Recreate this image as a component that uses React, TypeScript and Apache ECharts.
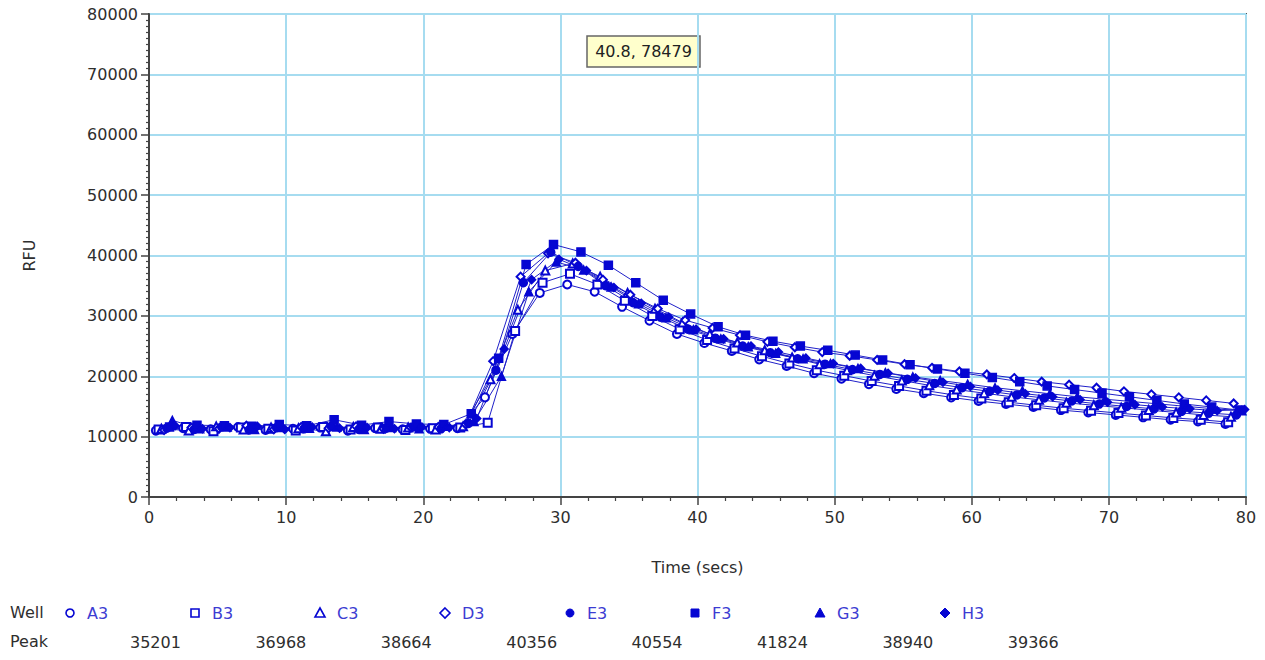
import React, { useEffect, useRef } from "react";
import * as echarts from "echarts";

// ---- Data ----
const wells = ["A3", "B3", "C3", "D3", "E3", "F3", "G3", "H3"];
const peaks = [35201, 36968, 38664, 40356, 40554, 41824, 38940, 39366];
// time (s) of each well's first read; reads repeat every readInterval seconds
const firstRead = [0.5, 0.7, 0.9, 1.1, 1.3, 1.5, 1.7, 1.9];
const readInterval = 2;
const wellSymbols = ["emptyCircle", "emptyRect", "emptyTriangle", "emptyDiamond", "circle", "rect", "triangle", "diamond"];

const rfuA3 = [11000, 11400, 11200, 11600, 11100, 11300, 11500, 11000, 11400, 11200, 11300, 11400, 16500, 27000, 33800, 35201, 34000, 31500, 29200, 27000, 25500, 24200, 22800, 21700, 20500, 19600, 18700, 17900, 17200, 16500, 15900, 15400, 14900, 14400, 14000, 13600, 13200, 12800, 12500, 12100];
const rfuB3 = [11200, 11600, 10900, 11500, 11300, 11000, 11600, 11200, 11500, 11100, 11400, 11500, 12300, 27500, 35500, 36968, 35200, 32500, 30000, 27800, 26000, 24600, 23300, 22100, 21000, 20100, 19200, 18400, 17600, 16900, 16300, 15700, 15200, 14700, 14300, 13900, 13500, 13100, 12800, 12400];
const rfuC3 = [11300, 11000, 11700, 11200, 11500, 11400, 10900, 11600, 11300, 11500, 11200, 11700, 19500, 31000, 37500, 38664, 36500, 33800, 31200, 28900, 27000, 25600, 24300, 23100, 22000, 21000, 20100, 19300, 18500, 17800, 17200, 16600, 16100, 15600, 15200, 14800, 14400, 14000, 13600, 13300];
const rfuD3 = [11100, 11500, 11300, 11800, 11200, 11600, 11400, 11700, 11300, 11500, 11600, 12000, 22500, 36500, 40356, 38800, 36000, 33500, 31200, 29300, 28000, 26800, 25700, 24800, 24000, 23400, 22700, 22000, 21400, 20800, 20300, 19700, 19100, 18600, 18100, 17500, 17000, 16500, 16000, 15500];
const rfuE3 = [11400, 11200, 11600, 11100, 11500, 11300, 11700, 11200, 11400, 11600, 11300, 12200, 21000, 35500, 40554, 38200, 35000, 32200, 29800, 27800, 26300, 25000, 23900, 22900, 22000, 21100, 20300, 19500, 18800, 18100, 17500, 16900, 16400, 15900, 15400, 15000, 14600, 14200, 13900, 13600];
const rfuF3 = [11600, 11900, 11800, 11700, 12000, 11800, 12800, 11900, 12500, 12100, 12000, 13800, 23000, 38500, 41824, 40600, 38400, 35500, 32600, 30300, 28200, 26800, 25800, 25000, 24300, 23500, 22700, 21900, 21200, 20500, 19800, 19100, 18400, 17800, 17200, 16600, 16000, 15400, 14900, 14400];
const rfuG3 = [12700, 11300, 11600, 11200, 11500, 11400, 11600, 11200, 11500, 11300, 11700, 12500, 20000, 34000, 38940, 37600, 34800, 32000, 29700, 27700, 26200, 24900, 23800, 22900, 22100, 21300, 20600, 19900, 19300, 18700, 18100, 17600, 17100, 16600, 16200, 15800, 15400, 15000, 14600, 14300];
const rfuH3 = [11800, 11300, 11500, 11700, 11200, 11600, 11400, 11500, 11300, 11600, 11500, 13000, 24500, 36000, 39366, 37500, 34700, 32100, 29800, 27800, 26200, 25000, 24000, 23000, 22100, 21300, 20500, 19700, 19000, 18300, 17700, 17100, 16600, 16100, 15700, 15300, 14900, 14600, 14300, 14500];
const rfuSeries = [rfuA3, rfuB3, rfuC3, rfuD3, rfuE3, rfuF3, rfuG3, rfuH3];

const cursorReadout = "40.8, 78479";

// ---- Styles ----
const FONT = "DejaVu Sans";
const BLUE = "#0606d2";
const LINE_BLUE = "#2020c8";
const LABEL_BLUE = "#3c3cd2";
const TEXT = "#2e2e2e";
const GRID_BLUE = "#a6dcf0";

function legendMarker(kind: string, x: number, y: number) {
  const empty = kind.startsWith("empty");
  const style = empty
    ? { fill: "#ffffff", stroke: BLUE, lineWidth: 1.6 }
    : { fill: BLUE, stroke: BLUE, lineWidth: 1 };
  const base = kind.replace("empty", "").toLowerCase();
  if (base === "circle") return { type: "circle", shape: { cx: x, cy: y, r: 4 }, style };
  if (base === "rect") return { type: "rect", shape: { x: x - 4, y: y - 4, width: 8, height: 8 }, style };
  if (base === "triangle")
    return { type: "polygon", shape: { points: [[x, y - 5], [x - 5, y + 4], [x + 5, y + 4]] }, style };
  return { type: "polygon", shape: { points: [[x, y - 5], [x + 5, y], [x, y + 5], [x - 5, y]] }, style };
}

export default function App() {
  const ref = useRef<HTMLDivElement>(null);
  useEffect(() => {
    if (!ref.current) return;
    const chart = echarts.init(ref.current, null, { renderer: "svg" });

    const series = wells.map((w, i) => ({
      name: w,
      type: "line",
      data: rfuSeries[i].map((v, k) => [firstRead[i] + k * readInterval, v]),
      symbol: wellSymbols[i],
      symbolSize: 8,
      showAllSymbol: true,
      lineStyle: { color: LINE_BLUE, width: 1 },
      itemStyle: { color: BLUE, borderColor: BLUE, borderWidth: 1.5 },
      emphasis: { disabled: true },
      z: 3,
    }));

    const graphic: any[] = [];
    graphic.push({ type: "text", left: 10, top: 604, style: { text: "Well", font: `16px "${FONT}"`, fill: TEXT } });
    graphic.push({ type: "text", left: 10, top: 633, style: { text: "Peak", font: `16px "${FONT}"`, fill: TEXT } });
    wells.forEach((w, i) => {
      const mx = 70 + 125 * i;
      graphic.push(legendMarker(wellSymbols[i], mx, 613));
      graphic.push({ type: "text", x: mx + 17, y: 613, style: { text: w, font: `16px "${FONT}"`, fill: LABEL_BLUE, verticalAlign: "middle" } });
      graphic.push({ type: "text", x: 130 + 125.4 * i, y: 642, style: { text: String(peaks[i]), font: `16px "${FONT}"`, fill: TEXT, verticalAlign: "middle" } });
    });
    graphic.push({
      type: "group",
      children: [
        { type: "rect", shape: { x: 587, y: 36, width: 113, height: 31 }, style: { fill: "#ffffcc", stroke: "#666666", lineWidth: 1.5 } },
        { type: "text", x: 643.5, y: 51.5, style: { text: cursorReadout, font: `16px "${FONT}"`, fill: "#222222", align: "center", verticalAlign: "middle" } },
      ],
    });

    chart.setOption({
      animation: false,
      backgroundColor: "#ffffff",
      grid: { left: 149, right: 19, top: 14, bottom: 163, show: true, borderColor: "#555555", borderWidth: 2, backgroundColor: "transparent" },
      xAxis: {
        type: "value",
        min: 0,
        max: 80,
        interval: 10,
        name: "Time (secs)",
        nameLocation: "middle",
        nameGap: 62,
        nameTextStyle: { fontFamily: FONT, fontSize: 16, color: TEXT },
        axisLine: { lineStyle: { color: "#444444", width: 2 } },
        axisTick: { length: 8, lineStyle: { color: "#444444", width: 1.5 } },
        minorTick: { show: true, splitNumber: 5, length: 4, lineStyle: { color: "#444444", width: 1.2 } },
        axisLabel: { fontFamily: FONT, fontSize: 16, color: TEXT, margin: 12 },
        splitLine: { show: true, lineStyle: { color: GRID_BLUE, width: 2 } },
      },
      yAxis: {
        type: "value",
        min: 0,
        max: 80000,
        interval: 10000,
        name: "RFU",
        nameLocation: "middle",
        nameGap: 112,
        nameRotate: 90,
        nameTextStyle: { fontFamily: FONT, fontSize: 16, color: TEXT },
        axisLine: { show: true, lineStyle: { color: "#444444", width: 2 } },
        axisTick: { show: true, length: 8, lineStyle: { color: "#444444", width: 1.5 } },
        minorTick: { show: true, splitNumber: 10, length: 3, lineStyle: { color: "#444444", width: 1.2 } },
        axisLabel: { fontFamily: FONT, fontSize: 16, color: TEXT, margin: 11, formatter: (v: number) => String(v) },
        splitLine: { show: true, lineStyle: { color: GRID_BLUE, width: 2 } },
      },
      graphic,
      series,
    });
    return () => chart.dispose();
  }, []);
  return <div ref={ref} style={{ position: "fixed", left: 0, top: 0, width: 1265, height: 660 }} />;
}
